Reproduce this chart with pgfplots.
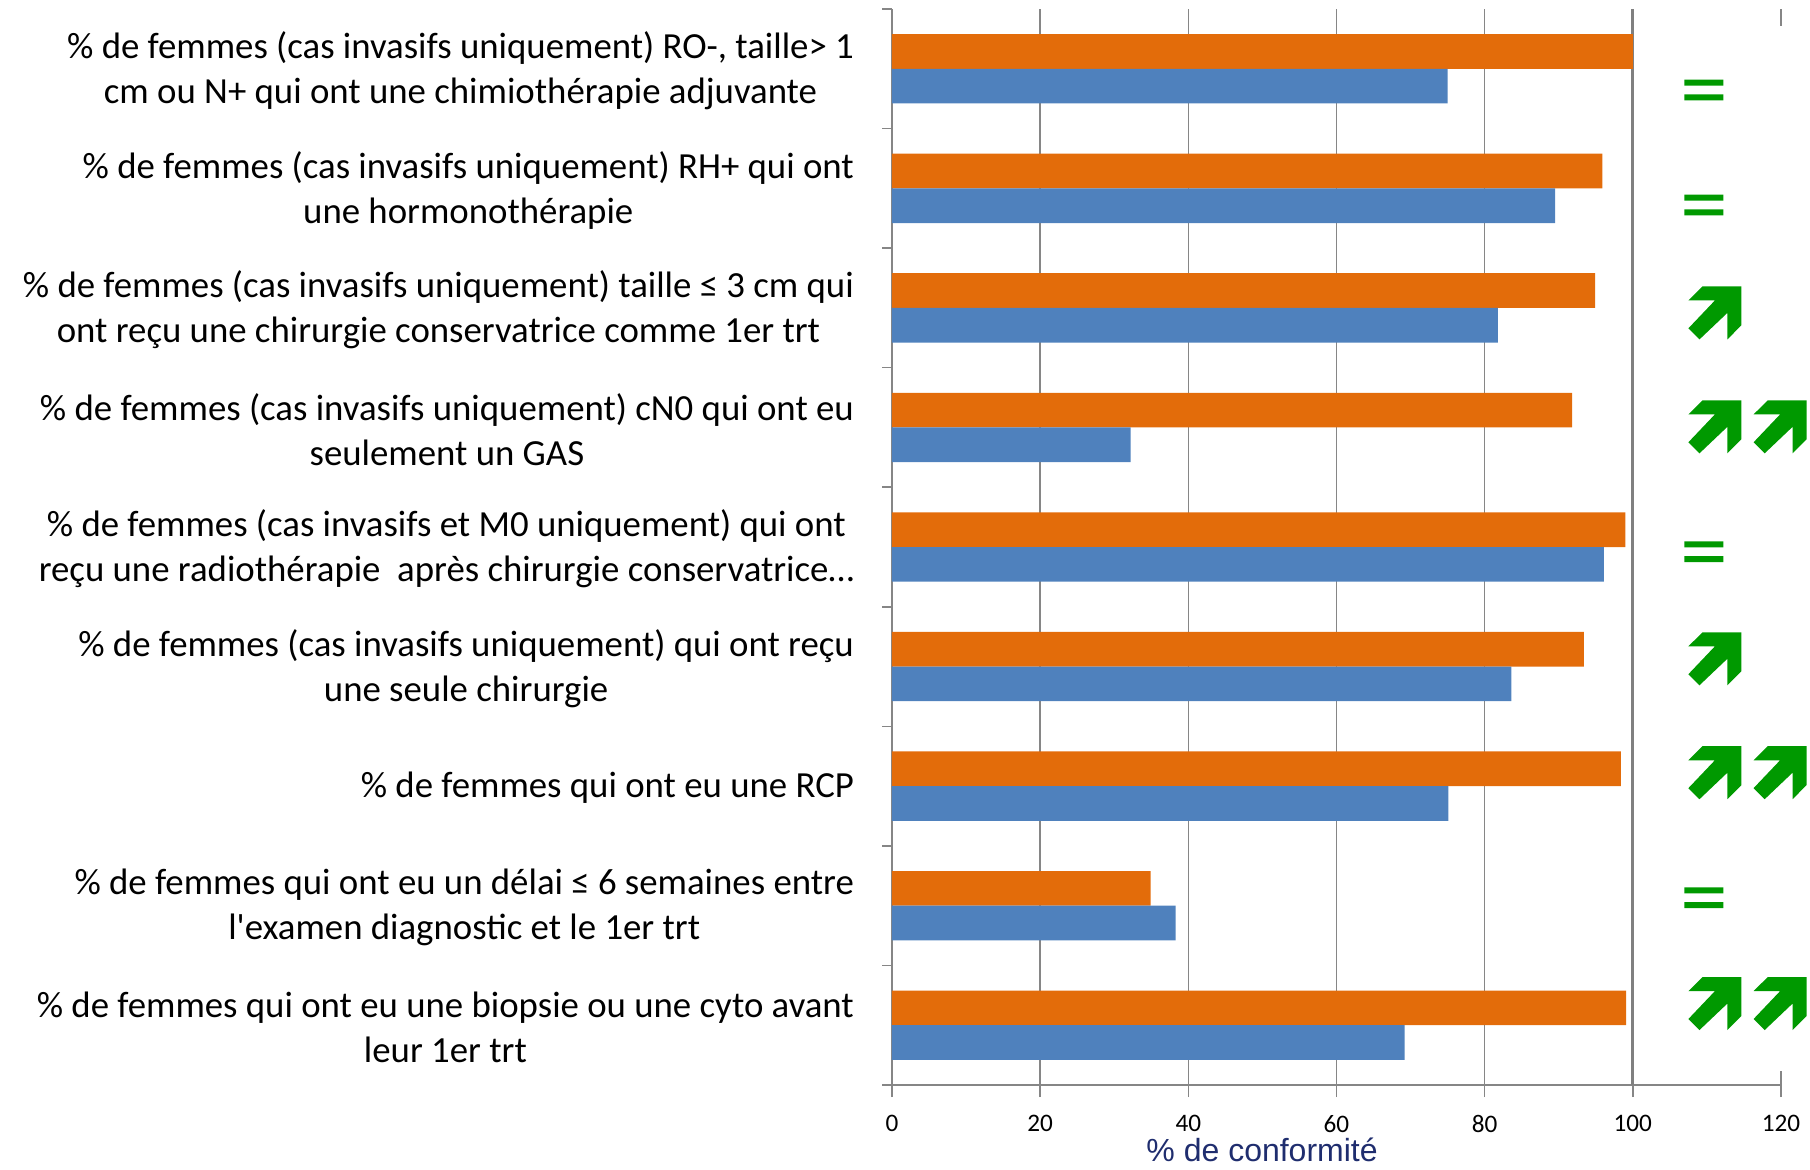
\documentclass[border=0pt]{standalone}
\usepackage{fontspec}
\setmainfont{Carlito}
\newfontfamily\arialfont{Liberation Sans}
\usepackage{pgfplots}
\pgfplotsset{compat=1.18}
\definecolor{barorange}{RGB}{227,108,10}
\definecolor{barblue}{RGB}{79,129,189}
\definecolor{symgreen}{RGB}{0,153,0}
\definecolor{axgray}{RGB}{134,134,134}
\definecolor{navy}{RGB}{31,45,110}

\newcommand{\uparr}[2]{%
  \fill[symgreen, shift={(axis cs:#1,#2)}] (7.05pt,13.25pt) -- (26.5pt,13.25pt) -- (26.5pt,-6.2pt) -- (19.48pt,-13.25pt) -- (19.48pt,0pt) -- (5.54pt,-13.25pt) -- (0pt,-7.71pt) -- (13.25pt,6.23pt) -- (0pt,6.23pt) -- cycle;}
\newcommand{\eqsym}[2]{%
  \fill[symgreen, shift={(axis cs:#1,#2)}] (0pt,2.2pt) rectangle (19.5pt,5.2pt) (0pt,-5.2pt) rectangle (19.5pt,-2.2pt);}

\begin{document}
\begin{tikzpicture}
\useasboundingbox (-446pt,-42.5pt) rectangle (459pt,542.5pt);
\begin{axis}[
  at={(0,0)}, anchor=south west,
  width=444.5pt, height=538pt, scale only axis,
  xbar, bar width=0.29,
  xmin=0, xmax=120, ymin=0.5, ymax=9.5, y dir=reverse,
  axis x line*=bottom, axis y line*=left,
  axis line style={axgray, line width=0.75pt, -},
  xtick={0,20,...,120}, tick align=outside, major tick length=6pt,
  xtick style={axgray, line width=0.75pt},
  ytick style={draw=none},
  ytick={1,...,9},
  yticklabels={
    {\% de femmes (cas invasifs uniquement) RO-, taille> 1\\cm ou N+ qui ont une chimiothérapie adjuvante},
    {\% de femmes (cas invasifs uniquement) RH+ qui ont\\une hormonothérapie},
    {\% de femmes (cas invasifs uniquement) taille ≤ 3 cm qui\\ont reçu une chirurgie conservatrice comme 1er trt},
    {\% de femmes (cas invasifs uniquement) cN0 qui ont eu\\seulement un GAS},
    {\% de femmes (cas invasifs et M0 uniquement) qui ont\\reçu une radiothérapie \ après chirurgie conservatrice…},
    {\% de femmes (cas invasifs uniquement) qui ont reçu\\une seule chirurgie},
    {\% de femmes qui ont eu une RCP},
    {\% de femmes qui ont eu un délai ≤ 6 semaines entre\\l\textquotesingle examen diagnostic et le 1er trt},
    {\% de femmes qui ont eu une biopsie ou une cyto avant\\leur 1er trt}
  },
  yticklabel style={font=\fontsize{18.4}{22.5}\selectfont, align=center, xshift=-9.5pt, yshift=-1pt},
  /pgf/number format/assume math mode=true,
  xticklabel style={font=\fontsize{12.6}{14}\selectfont, yshift=-5.5pt},
  xlabel={\% de conformité},
  xlabel style={font=\arialfont\fontsize{16}{19}\selectfont, text=navy, inner sep=0pt,
    at={(axis description cs:0.4163,0)}, anchor=base, yshift=-38pt},
  clip=false,
]
\pgfplotsinvokeforeach{20,40,60,80}{\draw[axgray, line width=0.75pt] (axis cs:#1,0.5) -- (axis cs:#1,9.5);}
\draw[gray, line width=1.5pt] (axis cs:100,0.5) -- (axis cs:100,9.5);
\pgfplotsinvokeforeach{0.5,1.5,2.5,3.5,4.5,5.5,6.5,7.5,8.5,9.5}{\draw[axgray, line width=0.75pt] (axis cs:0,#1) -- ++(-5pt,0pt);}
\draw[axgray, line width=0.75pt] (axis cs:120,0.5) -- ++(0pt,-8.5pt);
\draw[axgray, line width=0.75pt] (axis cs:120,9.5) -- ++(0pt,7pt);

\addplot[fill=barorange, draw=none, bar shift=-0.145] coordinates {
  (100,1) (95.9,2) (94.9,3) (91.8,4) (99.0,5) (93.4,6) (98.4,7) (34.9,8) (99.1,9)};
\addplot[fill=barblue, draw=none, bar shift=0.145] coordinates {
  (75.0,1) (89.5,2) (81.8,3) (32.2,4) (96.1,5) (83.6,6) (75.1,7) (38.3,8) (69.2,9)};

\eqsym{106.95}{1.177}
\eqsym{106.95}{2.139}
\uparr{107.5}{3.042}
\uparr{107.5}{3.995}\uparr{116.3}{3.995}
\eqsym{106.95}{5.040}
\uparr{107.5}{5.935}
\uparr{107.5}{6.888}\uparr{116.3}{6.888}
\eqsym{106.95}{7.933}
\uparr{107.5}{8.819}\uparr{116.3}{8.819}
\end{axis}
\end{tikzpicture}
\end{document}
